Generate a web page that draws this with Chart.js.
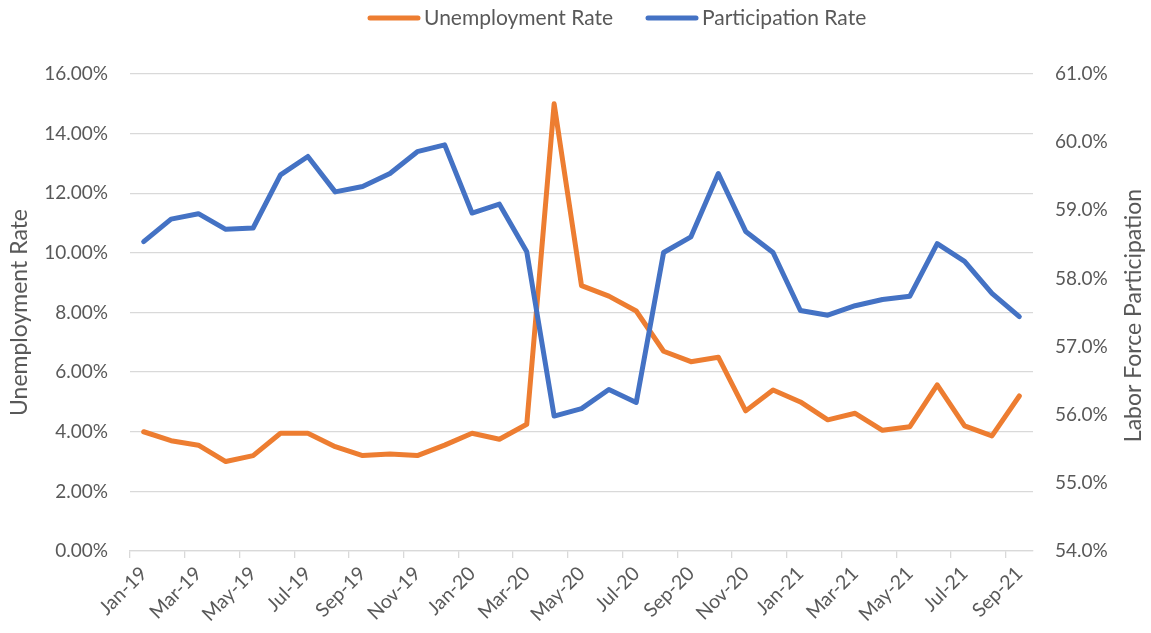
<!DOCTYPE html>
<html>
<head>
<meta charset="utf-8">
<script src="https://cdn.jsdelivr.net/npm/chart.js@4.4.1/dist/chart.umd.min.js"></script>
<style>
  html, body { margin: 0; padding: 0; background: #ffffff; }
  #wrap { width: 1151px; height: 633px; }
</style>
</head>
<body>
<div id="wrap"><canvas id="chart" width="1151" height="633"></canvas></div>
<script>
// Monthly labels, Jan-19 through Sep-21
const months = [
  'Jan-19','Feb-19','Mar-19','Apr-19','May-19','Jun-19','Jul-19','Aug-19','Sep-19','Oct-19','Nov-19','Dec-19',
  'Jan-20','Feb-20','Mar-20','Apr-20','May-20','Jun-20','Jul-20','Aug-20','Sep-20','Oct-20','Nov-20','Dec-20',
  'Jan-21','Feb-21','Mar-21','Apr-21','May-21','Jun-21','Jul-21','Aug-21','Sep-21'
];

// Unemployment rate, percent
const unemploymentRate = [
  4.0, 3.7, 3.55, 3.0, 3.2, 3.95, 3.95, 3.5, 3.2, 3.25, 3.2, 3.55,
  3.95, 3.75, 4.25, 15.0, 8.9, 8.55, 8.05, 6.7, 6.35, 6.5, 4.7, 5.4,
  5.0, 4.4, 4.62, 4.05, 4.17, 5.57, 4.2, 3.86, 5.2
];

// Labor force participation rate, percent
const participationRate = [
  58.54, 58.87, 58.95, 58.72, 58.74, 59.52, 59.79, 59.27, 59.35, 59.54, 59.86, 59.96,
  58.96, 59.09, 58.39, 55.98, 56.09, 56.37, 56.18, 58.38, 58.61, 59.54, 58.69, 58.38,
  57.53, 57.46, 57.60, 57.69, 57.74, 58.51, 58.25, 57.78, 57.44
];

// Axis ranges and tick steps
const leftAxisRange = [0, 16, 2];
const rightAxisRange = [54, 61, 1];

const seriesNames = ['Unemployment Rate', 'Participation Rate'];
const axisTitles = ['Unemployment Rate', 'Labor Force Participation'];

const TEXT = '#595959';
const GRID = '#d9d9d9';
const ORANGE = '#ED7D31';
const BLUE = '#4472C4';
const FONT = 'Lato, "Open Sans", sans-serif';

// Legend drawn across the top: a short stroke followed by the series name
const topLegend = {
  id: 'topLegend',
  afterDraw(chart) {
    const ctx = chart.ctx;
    const y = 18;
    const items = [
      { x: 368, ds: chart.data.datasets[0] },
      { x: 646, ds: chart.data.datasets[1] }
    ];
    ctx.save();
    ctx.font = '21px ' + FONT;
    ctx.textBaseline = 'middle';
    ctx.textAlign = 'left';
    items.forEach(it => {
      ctx.strokeStyle = it.ds.borderColor;
      ctx.lineWidth = 5;
      ctx.lineCap = 'round';
      ctx.beginPath();
      ctx.moveTo(it.x + 2, y);
      ctx.lineTo(it.x + 50, y);
      ctx.stroke();
      ctx.fillStyle = TEXT;
      ctx.fillText(it.ds.label, it.x + 56, y);
    });
    ctx.restore();
  }
};

// Right-hand axis title, reading bottom to top
const rightTitle = {
  id: 'rightTitle',
  afterDraw(chart) {
    const ctx = chart.ctx;
    const area = chart.chartArea;
    ctx.save();
    ctx.font = '23px ' + FONT;
    ctx.fillStyle = TEXT;
    ctx.textAlign = 'center';
    ctx.textBaseline = 'middle';
    ctx.translate(1134, (area.top + area.bottom) / 2 + 3);
    ctx.rotate(-Math.PI / 2);
    ctx.fillText(axisTitles[1], 0, 0);
    ctx.restore();
  }
};

new Chart(document.getElementById('chart'), {
  type: 'line',
  data: {
    labels: months,
    datasets: [
      {
        label: seriesNames[0],
        data: unemploymentRate,
        yAxisID: 'y',
        borderColor: ORANGE,
        backgroundColor: ORANGE,
        borderWidth: 5,
        pointRadius: 0,
        tension: 0,
        borderCapStyle: 'round',
        borderJoinStyle: 'round',
        order: 1
      },
      {
        label: seriesNames[1],
        data: participationRate,
        yAxisID: 'y2',
        borderColor: BLUE,
        backgroundColor: BLUE,
        borderWidth: 5,
        pointRadius: 0,
        tension: 0,
        borderCapStyle: 'round',
        borderJoinStyle: 'round',
        order: 0
      }
    ]
  },
  options: {
    responsive: false,
    animation: false,
    layout: { padding: { top: 74, left: 0, right: 0, bottom: 0 } },
    plugins: {
      legend: { display: false },
      tooltip: { enabled: false }
    },
    scales: {
      x: {
        type: 'category',
        offset: true,
        grid: {
          offset: true,
          drawOnChartArea: false,
          drawTicks: true,
          tickLength: 7,
          lineWidth: 1.3,
          color: c => (c.index !== undefined && c.index % 2 === 0) ? GRID : 'rgba(0,0,0,0)'
        },
        border: { display: true, color: GRID, width: 1.3 },
        ticks: {
          autoSkip: false,
          minRotation: 45,
          maxRotation: 45,
          padding: 4,
          color: TEXT,
          font: { family: FONT, size: 19.5 },
          callback: (v, i) => (i % 2 === 0 ? months[i] : '')
        },
        afterFit: s => { s.height = 82; }
      },
      y: {
        position: 'left',
        min: leftAxisRange[0],
        max: leftAxisRange[1],
        grid: { color: GRID, lineWidth: 1.3, drawTicks: false },
        border: { display: false },
        ticks: {
          stepSize: leftAxisRange[2],
          padding: 22,
          color: TEXT,
          font: { family: FONT, size: 19 },
          callback: v => v.toFixed(2) + '%'
        },
        title: {
          display: true,
          text: axisTitles[0],
          color: TEXT,
          font: { family: FONT, size: 23 },
          padding: { top: 6, bottom: 0 }
        },
        afterFit: s => { s.width = 130; }
      },
      y2: {
        position: 'right',
        min: rightAxisRange[0],
        max: rightAxisRange[1],
        grid: { drawOnChartArea: false, drawTicks: false },
        border: { display: false },
        ticks: {
          stepSize: rightAxisRange[2],
          padding: 22,
          color: TEXT,
          font: { family: FONT, size: 19 },
          callback: v => v.toFixed(1) + '%'
        },
        afterFit: s => { s.width = 118; }
      }
    }
  },
  plugins: [topLegend, rightTitle]
});
</script>
</body>
</html>
